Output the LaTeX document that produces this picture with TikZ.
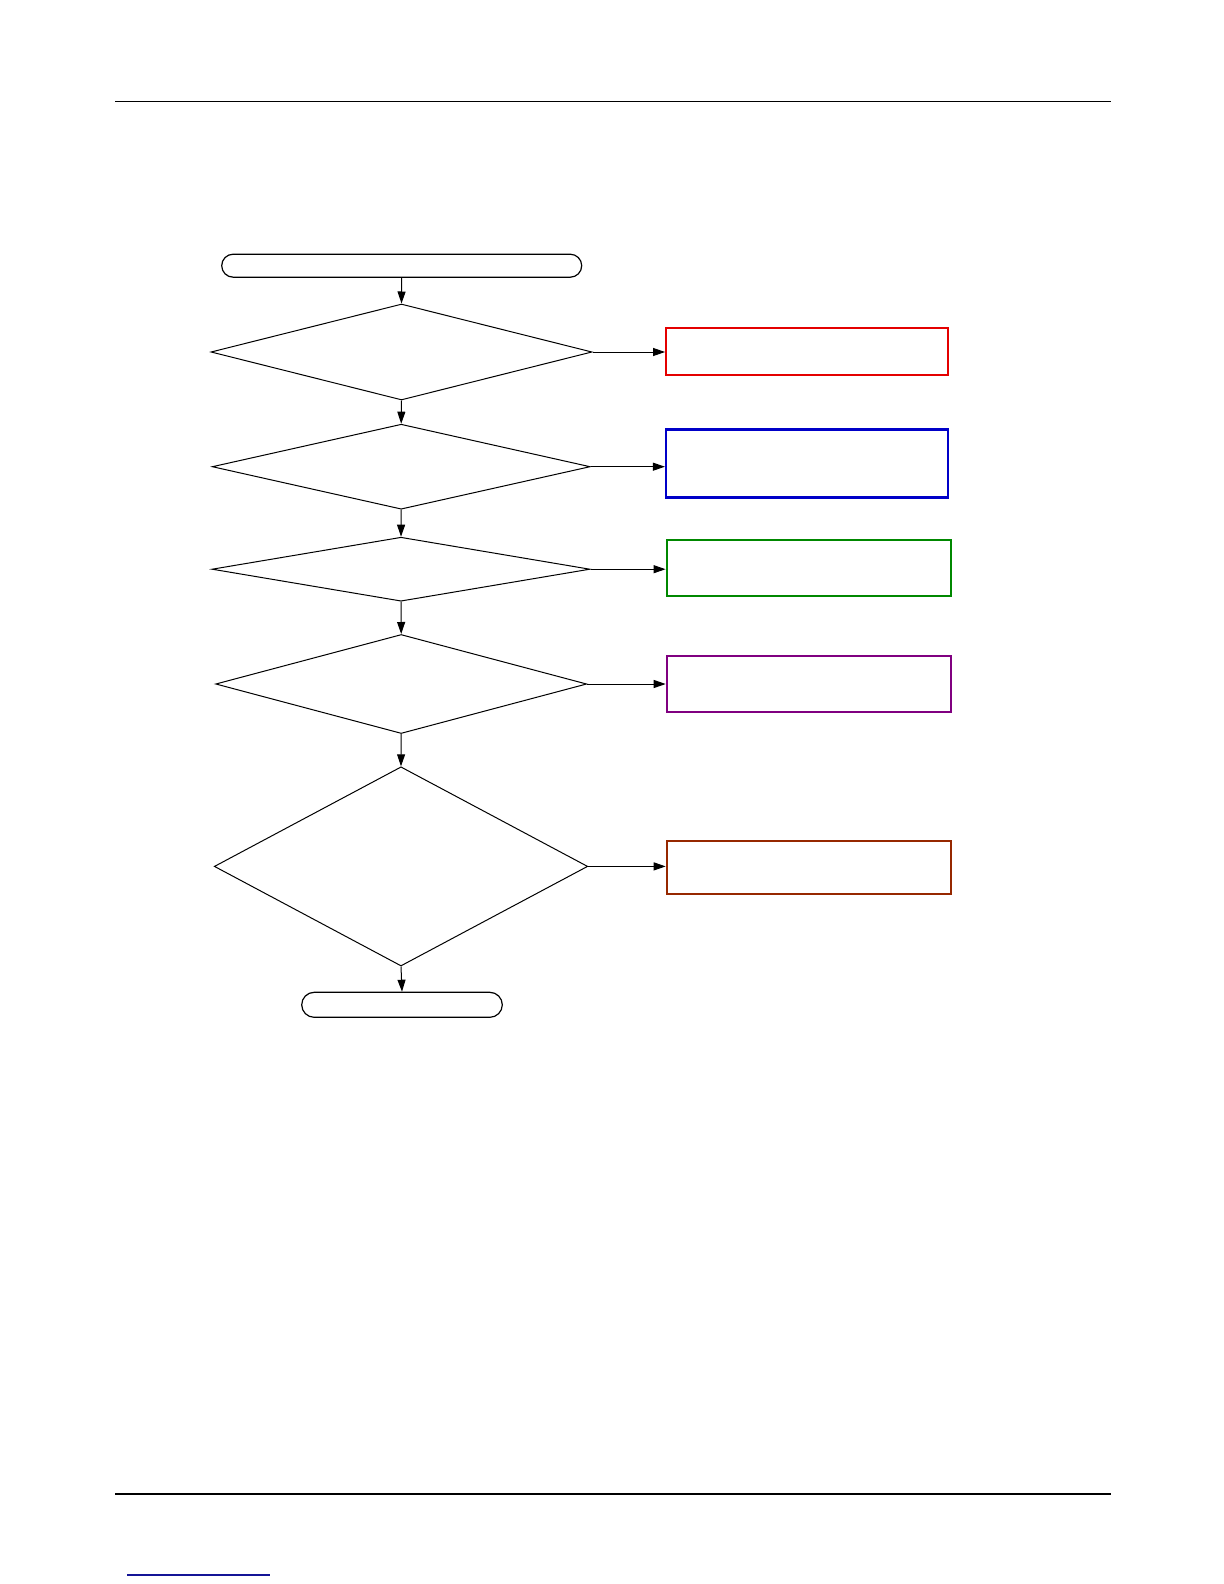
\documentclass[tikz,border=0pt]{standalone}
\usetikzlibrary{shapes.geometric,arrows.meta}
\definecolor{cred}{RGB}{228,0,0}
\definecolor{cblue}{RGB}{0,0,200}
\definecolor{cgreen}{RGB}{0,136,0}
\definecolor{cpurple}{RGB}{128,0,128}
\definecolor{cbrown}{RGB}{150,40,0}
\definecolor{clink}{RGB}{20,20,150}
\begin{document}
\begin{tikzpicture}[x=0.5pt,y=-0.5pt,
  term/.style={draw, rectangle, inner sep=0pt, line width=0.6pt},
  dec/.style={draw, diamond, inner sep=0pt, line width=0.5pt},
  res/.style={draw, rectangle, inner sep=0pt, line width=1.1pt},
  flow/.style={-{Triangle[length=6pt,width=4pt]}, line width=0.5pt},
  rule/.style={line width=0.8pt}]
\useasboundingbox[fill=white] (0,0) rectangle (1224,1584);
% page rules
\draw[rule] (115,101.5) -- (1111,101.5);
\draw[rule] (115,1494) -- (1111,1494);
\draw[clink, line width=0.6pt] (127,1575) -- (270,1575);
% flow chart
\node[term, rounded corners=5.75pt, minimum width=180pt, minimum height=11.5pt] (start) at (401.7,265.7) {};
\node[dec, minimum width=190.5pt, minimum height=48pt] (d1) at (401.5,352) {};
\node[dec, minimum width=189pt, minimum height=42.5pt] (d2) at (401.2,466.7) {};
\node[dec, minimum width=189pt, minimum height=32pt] (d3) at (401,569.2) {};
\node[dec, minimum width=185.5pt, minimum height=49.5pt] (d4) at (401.2,684) {};
\node[dec, minimum width=186.7pt, minimum height=99.6pt] (d5) at (401,866.4) {};
\node[term, rounded corners=6.25pt, minimum width=100.3pt, minimum height=12.5pt] (end) at (402,1004.8) {};
\node[res, draw=cred, minimum width=141pt, minimum height=23.5pt] (r1) at (807.2,351.3) {};
\node[res, draw=cblue, minimum width=141pt, minimum height=34pt] (r2) at (807,463.5) {};
\node[res, draw=cgreen, minimum width=142pt, minimum height=28pt] (r3) at (808.7,568) {};
\node[res, draw=cpurple, minimum width=142pt, minimum height=28pt] (r4) at (808.8,684) {};
\node[res, draw=cbrown, minimum width=142pt, minimum height=26.8pt] (r5) at (808.8,867.5) {};
% vertical connectors
\draw[flow] (start.south) -- (d1.north);
\draw[flow] (d1.south) -- (d2.north);
\draw[flow] (d2.south) -- (d3.north);
\draw[flow] (d3.south) -- (d4.north);
\draw[flow] (d4.south) -- (d5.north);
\draw[flow] (d5.south) -- (end.north);
% horizontal connectors
\draw[flow] (d1.east) -- (d1.east -| r1.west);
\draw[flow] (d2.east) -- (d2.east -| r2.west);
\draw[flow] (d3.east) -- (d3.east -| r3.west);
\draw[flow] (d4.east) -- (d4.east -| r4.west);
\draw[flow] (d5.east) -- (d5.east -| r5.west);
\end{tikzpicture}
\end{document}
